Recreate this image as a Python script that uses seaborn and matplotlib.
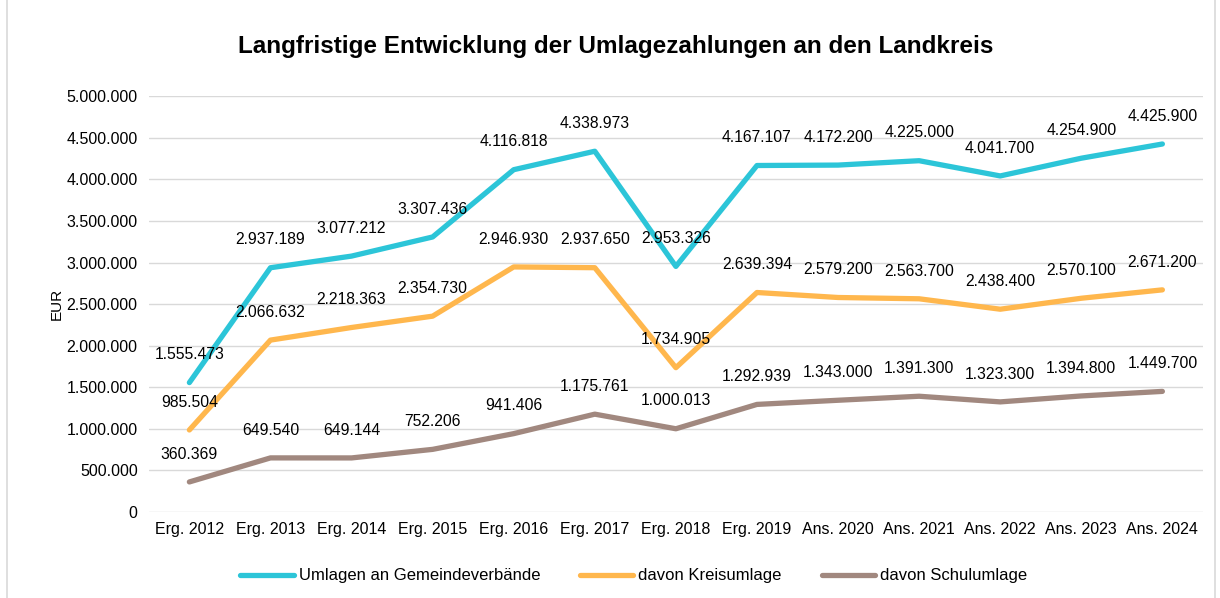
import pandas as pd
import numpy as np
import matplotlib.pyplot as plt
import matplotlib.ticker as mticker
import seaborn as sns

# Daten
jahre = ["Erg. 2012", "Erg. 2013", "Erg. 2014", "Erg. 2015", "Erg. 2016", "Erg. 2017",
         "Erg. 2018", "Erg. 2019", "Ans. 2020", "Ans. 2021", "Ans. 2022", "Ans. 2023", "Ans. 2024"]
umlagen = [1555473, 2937189, 3077212, 3307436, 4116818, 4338973, 2953326,
           4167107, 4172200, 4225000, 4041700, 4254900, 4425900]
kreisumlage = [985504, 2066632, 2218363, 2354730, 2946930, 2937650, 1734905,
               2639394, 2579200, 2563700, 2438400, 2570100, 2671200]
schulumlage = [360369, 649540, 649144, 752206, 941406, 1175761, 1000013,
               1292939, 1343000, 1391300, 1323300, 1394800, 1449700]
serien = ["Umlagen an Gemeindeverbände", "davon Kreisumlage", "davon Schulumlage"]
farben = ["#2CC5D8", "#FFB74D", "#A1887F"]


def de_fmt(v):
    return f"{int(round(v)):,}".replace(",", ".")


df = pd.DataFrame({"Jahr": jahre * 3,
                   "Wert": umlagen + kreisumlage + schulumlage,
                   "Serie": [serien[0]] * 13 + [serien[1]] * 13 + [serien[2]] * 13})
df["x"] = list(range(13)) * 3

sns.set_style("white")
plt.rcParams["font.family"] = ["Liberation Sans", "DejaVu Sans"]
plt.rcParams["text.color"] = "black"
plt.rcParams["xtick.color"] = "black"
plt.rcParams["ytick.color"] = "black"
plt.rcParams["axes.labelcolor"] = "black"

fig = plt.figure(figsize=(12.2, 5.98), dpi=100)
ax = fig.add_axes([0.122, 0.144, 0.864, 0.695])

sns.lineplot(data=df, x="x", y="Wert", hue="Serie", palette=farben,
             linewidth=3.8, ax=ax, legend=True, solid_capstyle="round")

# Datenbeschriftungen
for werte in [umlagen, kreisumlage, schulumlage]:
    for i, v in enumerate(werte):
        ax.annotate(de_fmt(v), (i, v), xytext=(0, 20), textcoords="offset points",
                    ha="center", va="center", fontsize=11.3, color="black")

ax.set_xlim(-0.5, 12.5)
ax.set_ylim(0, 5000000)
ax.set_xticks(range(13))
ax.set_xticklabels(jahre, fontsize=11.5)
ax.yaxis.set_major_locator(mticker.MultipleLocator(500000))
ax.yaxis.set_major_formatter(mticker.FuncFormatter(lambda v, p: de_fmt(v)))
ax.tick_params(axis="y", labelsize=11.5, length=0, pad=8)
ax.tick_params(axis="x", length=0, pad=7)
ax.grid(axis="y", color="#D9D9D9", linewidth=1)
ax.set_axisbelow(True)
for s in ax.spines.values():
    s.set_visible(False)
ax.set_xlabel("")
ax.set_ylabel("EUR", fontsize=11, labelpad=2)

ax.legend(loc="upper center", bbox_to_anchor=(0.46, -0.1), ncol=3, frameon=False,
          fontsize=12, handlelength=3.2, handletextpad=0.3, columnspacing=2.4)

fig.text(0.505, 0.922, "Langfristige Entwicklung der Umlagezahlungen an den Landkreis",
         ha="center", va="center", fontsize=17.5, fontweight="bold")

# Rahmen um das Diagramm
fig.patches.append(plt.Rectangle((0.006, -0.01), 0.99, 1.05, transform=fig.transFigure,
                                 fill=False, edgecolor="#D9D9D9", linewidth=1.2))

fig.savefig("out.png", dpi=100)
